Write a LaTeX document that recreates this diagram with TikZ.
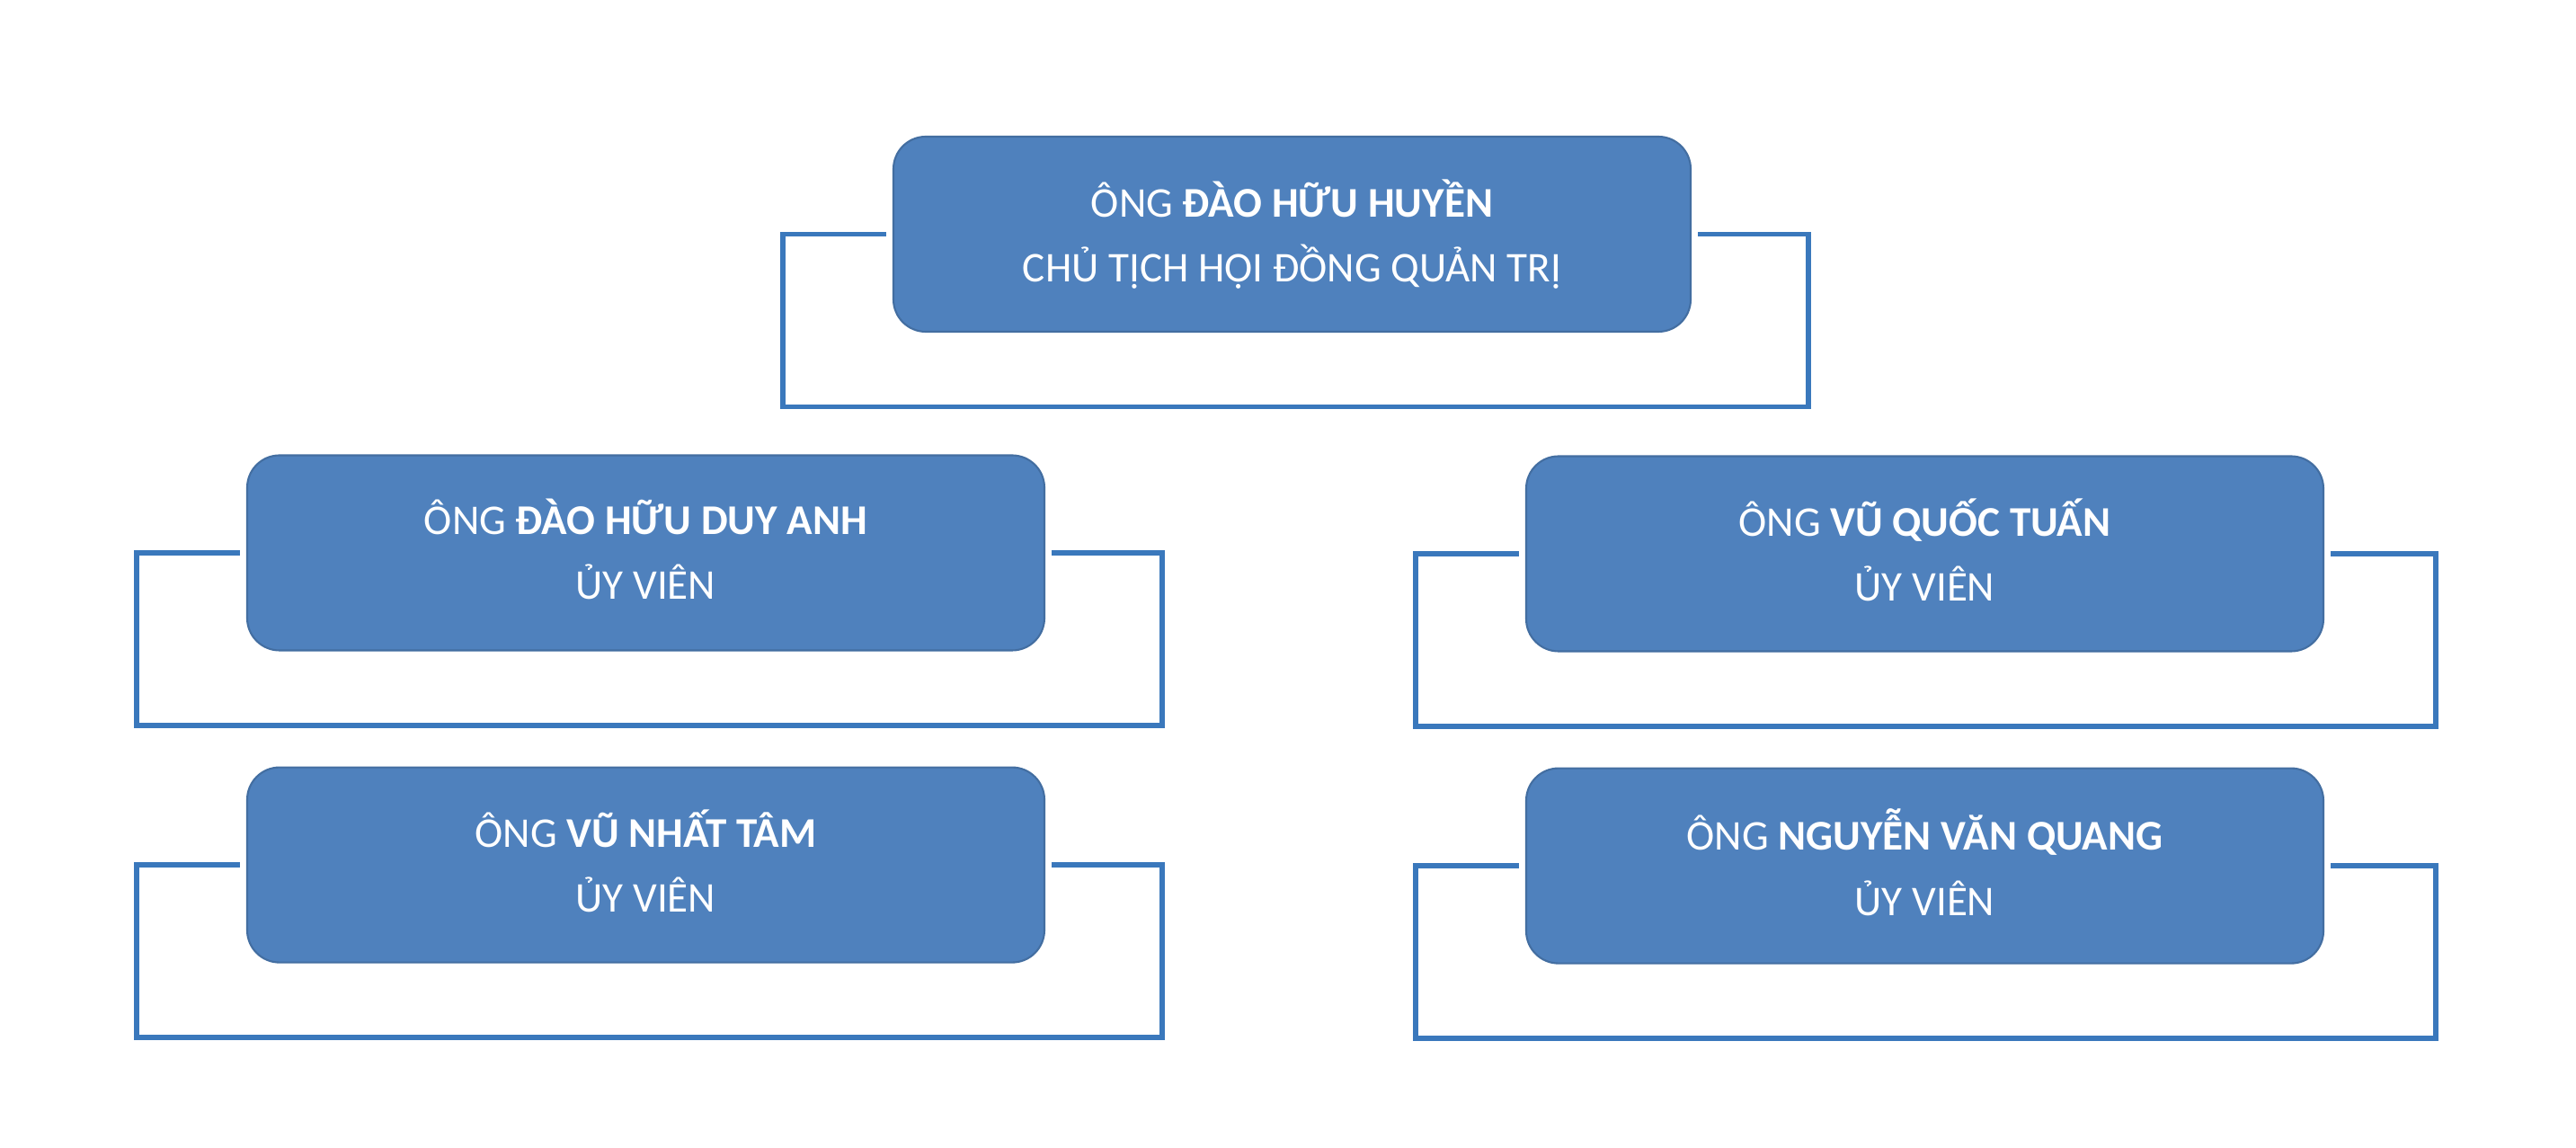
\documentclass[tikz,border=0pt]{standalone}
\usepackage{fontspec}
\setmainfont{Carlito}
\usepackage{xcolor}
\usepackage{tikz}
\usetikzlibrary{positioning}
\definecolor{boxblue}{RGB}{79,129,189}
\definecolor{linkblue}{RGB}{58,120,188}

\begin{document}
\begin{tikzpicture}[
  member/.style={draw=boxblue!85!black,line width=0.6pt,fill=boxblue,rounded corners=3.6mm,
                 text=white,align=center,font=\fontsize{13.4}{16}\selectfont,
                 minimum width=88.7mm,minimum height=21.7mm,inner sep=0pt},
  bracket/.style={draw=linkblue,line width=1.7pt}
]
\useasboundingbox (0,0) rectangle (28.66,-12.77);

\node[member] (chutich) at (14.375,-2.605) {ÔNG \textbf{ĐÀO HỮU HUYỀN}\\[4.5pt]CHỦ TỊCH HỘI ĐỒNG QUẢN TRỊ\vphantom{g}};
\node[member] (uv1) at (7.185,-6.15) {ÔNG \textbf{ĐÀO HỮU DUY ANH}\\[4.5pt]ỦY VIÊN\vphantom{g}};
\node[member, below=1.28cm of uv1] (uv2) {ÔNG \textbf{VŨ NHẤT TÂM}\\[4.5pt]ỦY VIÊN\vphantom{g}};
\node[member] (uv3) at (21.415,-6.16) {ÔNG \textbf{VŨ QUỐC TUẤN}\\[4.5pt]ỦY VIÊN\vphantom{g}};
\node[member, below=1.28cm of uv3] (uv4) {ÔNG \textbf{NGUYỄN VĂN QUANG}\\[4.5pt]ỦY VIÊN\vphantom{g}};

% open frame round each box
\foreach \n/\r in {chutich/13mm,uv1/13mm,uv2/13mm,uv3/12.4mm,uv4/12.4mm}
  \draw[bracket] ([xshift=-0.7mm]\n.west) -- ([xshift=-12.2mm]\n.west)
    -- ([xshift=-12.2mm,yshift=-19.2mm]\n.west) -- ([xshift=\r,yshift=-19.2mm]\n.east)
    -- ([xshift=\r]\n.east) -- ([xshift=0.7mm]\n.east);
\end{tikzpicture}
\end{document}
